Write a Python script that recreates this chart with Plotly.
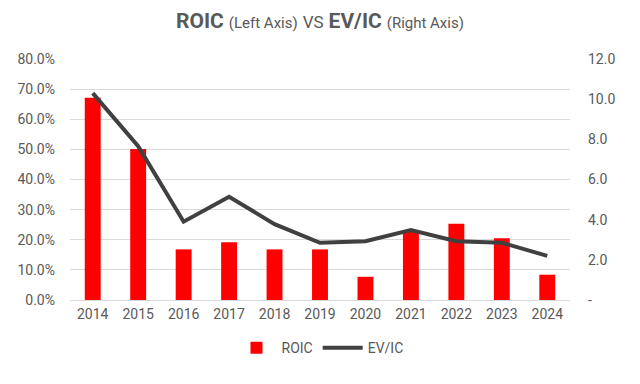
import plotly.graph_objects as go

years = ["2014", "2015", "2016", "2017", "2018", "2019", "2020", "2021", "2022", "2023", "2024"]
roic = [0.671, 0.501, 0.168, 0.192, 0.168, 0.168, 0.077, 0.227, 0.253, 0.205, 0.084]
ev_ic = [10.3, 7.66, 3.9, 5.14, 3.78, 2.85, 2.93, 3.48, 2.93, 2.85, 2.2]

left_ticks = [0, 0.1, 0.2, 0.3, 0.4, 0.5, 0.6, 0.7, 0.8]
left_labels = ["0.0%", "10.0%", "20.0%", "30.0%", "40.0%", "50.0%", "60.0%", "70.0%", "80.0%"]
right_ticks = [0, 2, 4, 6, 8, 10, 12]
right_labels = ["-", "2.0", "4.0", "6.0", "8.0", "10.0", "12.0"]

FONT = "Liberation Sans Narrow, Arial Narrow, Roboto, sans-serif"
GRAY = "#595959"

fig = go.Figure()
fig.add_trace(go.Bar(x=years, y=roic, name="ROIC", marker=dict(color="#ff0000", line=dict(width=0)), yaxis="y"))
fig.add_trace(go.Scatter(x=years, y=ev_ic, name="EV/IC", mode="lines", line=dict(color="#404040", width=4), yaxis="y2"))

fig.update_layout(
    width=640, height=384,
    margin=dict(l=70, r=70, t=59, b=84, autoexpand=False),
    paper_bgcolor="white", plot_bgcolor="white",
    font=dict(family=FONT, color=GRAY, size=14),
    bargap=0.65,
    title=dict(
        text="<b><span style='font-size:21px'>ROIC</span></b> <span style='font-size:15px'>(Left Axis)</span> <span style='font-size:17px'>VS</span> <b><span style='font-size:21px'>EV/IC</span></b> <span style='font-size:15px'>(Right Axis)</span>",
        x=0.5, xanchor="center", y=0.945, yanchor="middle",
        font=dict(family=FONT, color=GRAY),
    ),
    xaxis=dict(showgrid=False, showline=False, ticks="", tickfont=dict(size=14, color=GRAY),
               ticklabelstandoff=4, automargin=False),
    yaxis=dict(range=[0, 0.8], tickvals=left_ticks, ticktext=left_labels, showgrid=True,
               gridcolor="#d9d9d9", gridwidth=1, zeroline=True, zerolinecolor="#d9d9d9", zerolinewidth=1,
               tickfont=dict(size=14, color=GRAY), ticklabelstandoff=14, automargin=False),
    yaxis2=dict(range=[0, 12], tickvals=right_ticks, ticktext=right_labels, overlaying="y", side="right",
                showgrid=False, zeroline=False, tickfont=dict(size=14, color=GRAY),
                ticklabelstandoff=17, automargin=False),
    legend=dict(orientation="h", x=0.5, xanchor="center", y=-0.2, yanchor="middle",
                font=dict(size=14, color=GRAY), itemwidth=40),
)

fig.write_html("out.html", config={"displayModeBar": False},
               post_script="document.body.style.margin='0';document.body.style.padding='0';")
